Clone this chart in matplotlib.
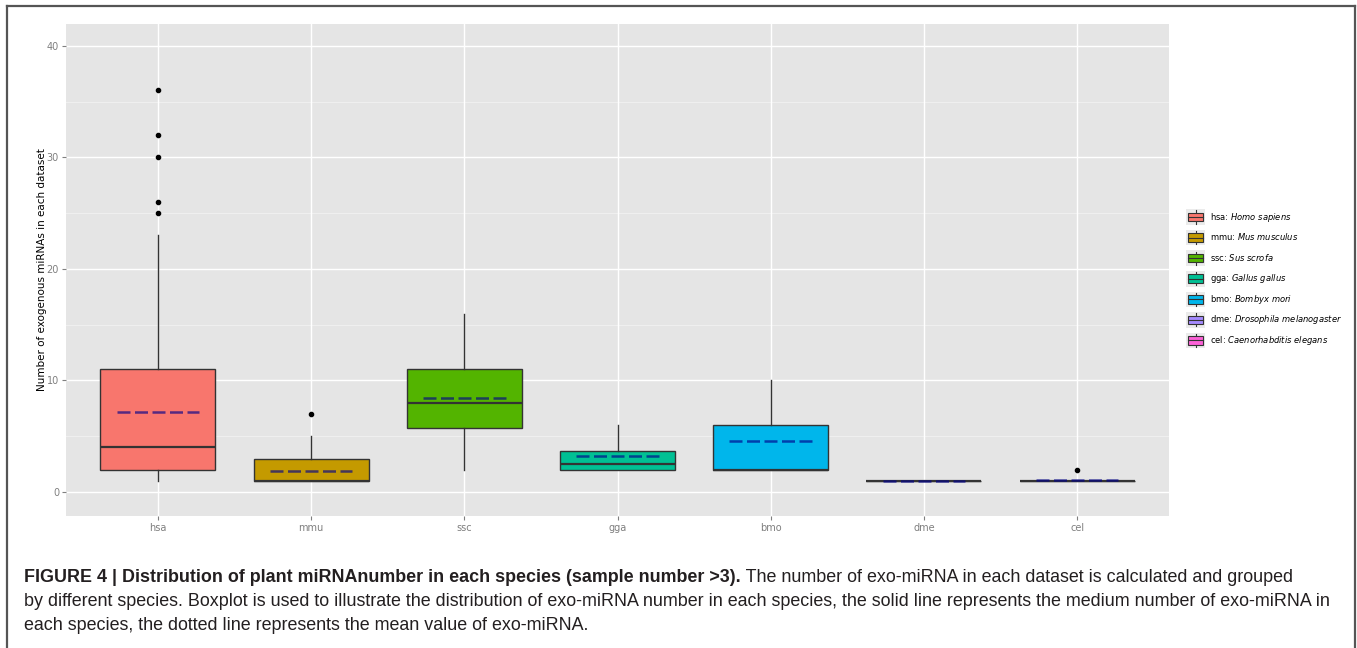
import matplotlib.pyplot as plt
from matplotlib.lines import Line2D
from matplotlib.patches import Rectangle, Patch
from matplotlib.legend_handler import HandlerBase

# summary values
species = ['hsa', 'mmu', 'ssc', 'gga', 'bmo', 'dme', 'cel']
names = ['Homo sapiens', 'Mus musculus', 'Sus scrofa', 'Gallus gallus',
         'Bombyx mori', 'Drosophila melanogaster', 'Caenorhabditis elegans']
q1 = [2, 1, 5.7, 2, 2, 1, 1]
med = [4, 1, 8, 2.5, 2, 1, 1]
q3 = [11, 3, 11, 3.7, 6, 1, 1]
whislo = [1, 1, 2, 2, 2, 1, 1]
whishi = [23, 5, 16, 6, 10, 1, 1]
means = [7.2, 1.9, 8.4, 3.2, 4.6, 1.0, 1.08]
outliers = [[25, 26, 30, 32, 36], [7], [], [], [], [], [2]]
colors = ['#F8766D', '#C49A00', '#53B400', '#00C094', '#00B6EB', '#A58AFF', '#FB61D7']

fig = plt.figure(figsize=(13.57, 6.48), dpi=100)
ax = fig.add_axes([66/1357, 1-516/648, (1169-66)/1357, (516-24)/648])
ax.set_facecolor('#E5E5E5')

# grid
for y in [5, 15, 25, 35]:
    ax.axhline(y, color='#F2F2F2', lw=0.6, zorder=0)
for y in [0, 10, 20, 30, 40]:
    ax.axhline(y, color='white', lw=1.0, zorder=0)
for i in range(len(species)):
    ax.axvline(i + 1, color='white', lw=1.0, zorder=0)

stats = []
for i in range(len(species)):
    stats.append(dict(med=med[i], q1=q1[i], q3=q3[i], whislo=whislo[i],
                      whishi=whishi[i], fliers=outliers[i], mean=means[i]))

bp = ax.bxp(stats, positions=range(1, len(species) + 1), widths=0.75,
            patch_artist=True, showcaps=False, showmeans=False,
            boxprops=dict(edgecolor='#333333', linewidth=1.0),
            whiskerprops=dict(color='#333333', linewidth=1.0),
            medianprops=dict(color='#333333', linewidth=1.6),
            flierprops=dict(marker='o', markerfacecolor='black', markeredgecolor='black',
                            markersize=3, linestyle='none'))
for patch, c in zip(bp['boxes'], colors):
    patch.set_facecolor(c)

# mean as dashed line
for i, m in enumerate(means):
    ax.hlines(m, i + 1 - 0.27, i + 1 + 0.27, colors='darkblue', alpha=0.65,
              linestyles=(0, (5.2, 1.8)), linewidth=1.8, zorder=5)

ax.set_xlim(0.4, 7.6)
ax.set_ylim(-2.15, 41.95)
ax.set_yticks([0, 10, 20, 30, 40])
ax.set_xticks(range(1, len(species) + 1))
ax.set_xticklabels(species)
ax.tick_params(axis='both', colors='#7F7F7F', labelcolor='#7F7F7F', labelsize=7,
               length=3, width=0.8, pad=2)
for s in ax.spines.values():
    s.set_visible(False)
ax.set_ylabel('Number of exogenous miRNAs in each dataset', fontsize=7.5, color='black',
              labelpad=0)


class BoxKey(HandlerBase):
    def create_artists(self, legend, orig_handle, xdescent, ydescent, width, height,
                       fontsize, trans):
        x0, y0 = -xdescent, -ydescent
        bg = Rectangle((x0, y0), width, height, facecolor='#EBEBEB', edgecolor='none',
                       transform=trans)
        wh = Line2D([x0 + width / 2] * 2, [y0 + height * 0.08, y0 + height * 0.92],
                    color='#333333', lw=0.8, transform=trans)
        bx = Rectangle((x0 + 1.5, y0 + height * 0.22), width - 3, height * 0.56,
                       facecolor=orig_handle.get_facecolor(),
                       edgecolor='#333333', lw=0.8, transform=trans)
        md = Line2D([x0 + 1.5, x0 + width - 1.5], [y0 + height / 2] * 2, color='#333333',
                    lw=0.8, transform=trans)
        return [bg, wh, bx, md]


handles = [Patch(facecolor=c) for c in colors]
labels = [sp + ': $\\it{' + n.replace(' ', '\\ ') + '}$' for sp, n in zip(species, names)]
leg = fig.legend(handles, labels, handler_map={Patch: BoxKey()},
                 loc='upper left', bbox_to_anchor=(1182/1357, 1-205/648),
                 frameon=False, fontsize=6, handlelength=2.3, handleheight=2.5,
                 handletextpad=0.6, labelspacing=0.6, borderpad=0)

# outer frame
fig.add_artist(Line2D([7/1357, 7/1357], [0, 1-6/648], color='#555555', lw=1.6))
fig.add_artist(Line2D([7/1357, 1355/1357], [1-6/648, 1-6/648], color='#555555', lw=1.6))
fig.add_artist(Line2D([1355/1357, 1355/1357], [0, 1-6/648], color='#555555', lw=1.6))

# caption
bold_txt = 'FIGURE 4 | Distribution of plant miRNAnumber in each species (sample number >3).'
rest1 = ' The number of exo-miRNA in each dataset is calculated and grouped'
line2 = ('by different species. Boxplot is used to illustrate the distribution of exo-miRNA '
         'number in each species, the solid line represents the medium number of exo-miRNA in')
line3 = 'each species, the dotted line represents the mean value of exo-miRNA.'

fs = 12
cap_font = 'Liberation Sans'
renderer = fig.canvas.get_renderer()
probe = fig.text(24/1357, 0, line2, fontsize=fs, family=cap_font)
w = probe.get_window_extent(renderer).width
probe.remove()
fs = fs * (1310 / w)

x0 = 24/1357
t1 = fig.text(x0, 1-577/648, bold_txt, fontsize=fs, family=cap_font, weight='bold',
              color='#231F20', va='center')
bb = t1.get_window_extent(renderer)
fig.text(bb.x1/1357, 1-577/648, rest1, fontsize=fs, family=cap_font, color='#231F20',
         va='center')
fig.text(x0, 1-601/648, line2, fontsize=fs, family=cap_font, color='#231F20', va='center')
fig.text(x0, 1-625/648, line3, fontsize=fs, family=cap_font, color='#231F20', va='center')

fig.savefig('out.png', dpi=100)
